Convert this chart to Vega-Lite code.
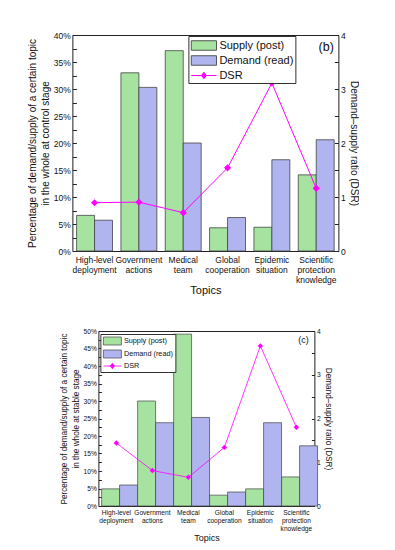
{
  "$schema": "https://vega.github.io/schema/vega-lite/v6.json",
  "padding": {"left": 26, "top": 30, "right": 0, "bottom": 0},
  "background": "white",
  "center": true,
  "spacing": 31,
  "config": {
    "font": "Liberation Sans",
    "view": {"stroke": "#222", "strokeWidth": 1},
    "axis": {"labelColor": "#111", "titleColor": "#111", "titleFontWeight": "normal", "domain": false, "grid": false, "tickColor": "#222"},
    "legend": {"labelColor": "#111"}
  },
  "datasets": {
    "barsB": [
      {"topic": "High-level deployment", "series": "Supply (post)", "value": 6.6},
      {"topic": "High-level deployment", "series": "Demand (read)", "value": 5.7},
      {"topic": "Government actions", "series": "Supply (post)", "value": 33.0},
      {"topic": "Government actions", "series": "Demand (read)", "value": 30.3},
      {"topic": "Medical team", "series": "Supply (post)", "value": 37.1},
      {"topic": "Medical team", "series": "Demand (read)", "value": 20.0},
      {"topic": "Global cooperation", "series": "Supply (post)", "value": 4.3},
      {"topic": "Global cooperation", "series": "Demand (read)", "value": 6.2},
      {"topic": "Epidemic situation", "series": "Supply (post)", "value": 4.4},
      {"topic": "Epidemic situation", "series": "Demand (read)", "value": 16.9},
      {"topic": "Scientific protection knowledge", "series": "Supply (post)", "value": 14.1},
      {"topic": "Scientific protection knowledge", "series": "Demand (read)", "value": 20.6}
    ],
    "dsrB": [
      {"topic": "High-level deployment", "dsr": 0.895},
      {"topic": "Government actions", "dsr": 0.905},
      {"topic": "Medical team", "dsr": 0.71},
      {"topic": "Global cooperation", "dsr": 1.54},
      {"topic": "Epidemic situation", "dsr": 3.11},
      {"topic": "Scientific protection knowledge", "dsr": 1.16}
    ],
    "barsC": [
      {"topic": "High-level deployment", "series": "Supply (post)", "value": 4.9},
      {"topic": "High-level deployment", "series": "Demand (read)", "value": 6.0},
      {"topic": "Government actions", "series": "Supply (post)", "value": 30.0},
      {"topic": "Government actions", "series": "Demand (read)", "value": 23.8},
      {"topic": "Medical team", "series": "Supply (post)", "value": 49.1},
      {"topic": "Medical team", "series": "Demand (read)", "value": 25.3},
      {"topic": "Global cooperation", "series": "Supply (post)", "value": 3.1},
      {"topic": "Global cooperation", "series": "Demand (read)", "value": 4.0},
      {"topic": "Epidemic situation", "series": "Supply (post)", "value": 4.9},
      {"topic": "Epidemic situation", "series": "Demand (read)", "value": 23.8},
      {"topic": "Scientific protection knowledge", "series": "Supply (post)", "value": 8.3},
      {"topic": "Scientific protection knowledge", "series": "Demand (read)", "value": 17.2}
    ],
    "dsrC": [
      {"topic": "High-level deployment", "dsr": 1.44},
      {"topic": "Government actions", "dsr": 0.81},
      {"topic": "Medical team", "dsr": 0.655},
      {"topic": "Global cooperation", "dsr": 1.34},
      {"topic": "Epidemic situation", "dsr": 3.66},
      {"topic": "Scientific protection knowledge", "dsr": 1.80}
    ]
  },
  "resolve": {"scale": {"color": "independent", "x": "independent", "y": "independent"}, "legend": {"color": "independent"}},
  "vconcat": [
    {
      "width": 266,
      "height": 216,
      "layer": [
        {
          "data": {"name": "barsB"},
          "mark": {"type": "bar", "stroke": "#444", "strokeWidth": 0.8},
          "encoding": {
            "x": {"field": "topic", "type": "nominal", "sort": null,
              "scale": {"domain": ["High-level deployment", "Government actions", "Medical team", "Global cooperation", "Epidemic situation", "Scientific protection knowledge"], "paddingInner": 0.19, "paddingOuter": 0.095},
              "axis": {"title": "Topics", "titleFontSize": 11, "titlePadding": 1, "labelAngle": 0, "labelFontSize": 8.5, "labelLineHeight": 10, "labelPadding": 4, "ticks": false, "labelOverlap": false, "labelExpr": "split(datum.label, ' ')"}},
            "xOffset": {"field": "series", "sort": ["Supply (post)", "Demand (read)"], "scale": {"paddingInner": 0}},
            "y": {"field": "value", "type": "quantitative", "scale": {"domain": [0, 40], "nice": false},
              "axis": {"orient": "left", "title": ["Percentage of demand/supply of a certain topic", "in the whole at control stage"], "titleFontSize": 10, "titleLineHeight": 13, "titlePadding": 3, "labelFontSize": 8.5, "values": [0, 2.5, 5, 7.5, 10, 12.5, 15, 17.5, 20, 22.5, 25, 27.5, 30, 32.5, 35, 37.5, 40], "labelExpr": "datum.value % 5 === 0 ? datum.value + '%' : ''", "tickSize": -4, "labelPadding": 6, "encode": {"ticks": {"x2": {"value": {"expr": "datum.value % 5 === 0 ? 4 : 2"}}}}}},
            "color": {"field": "series", "type": "nominal",
              "scale": {"domain": ["Supply (post)", "Demand (read)", "DSR"], "range": ["#a6e3a0", "#b0b4ef", "#ff00ff"]},
              "legend": {"orient": "none", "legendX": 116, "legendY": 1, "title": null, "labelFontSize": 11, "symbolSize": 196, "symbolStrokeWidth": 1, "strokeColor": "#333", "fillColor": "white", "padding": 2, "rowPadding": 0, "symbolOffset": 6, "labelOffset": 8,
                "symbolType": {"expr": "datum.value === 'DSR' ? 'M-1.8,0H1.8M0,-0.45L0.35,0L0,0.45L-0.35,0Z' : 'M-1.8,-0.68H1.8V0.68H-1.8Z'"},
                "symbolStrokeColor": {"expr": "datum.value === 'DSR' ? '#ff00ff' : '#555555'"}}}
          }
        },
        {
          "data": {"name": "dsrB"},
          "mark": {"type": "line", "color": "#ff00ff", "strokeWidth": 1},
          "encoding": {
            "x": {"field": "topic", "type": "nominal", "sort": null},
            "y": {"field": "dsr", "type": "quantitative", "scale": {"domain": [0, 4], "nice": false},
              "axis": {"orient": "right", "title": "Demand–supply ratio (DSR)", "titleFontSize": 10, "titlePadding": 3, "labelFontSize": 8.5, "values": [0, 0.5, 1, 1.5, 2, 2.5, 3, 3.5, 4], "labelExpr": "datum.value % 1 === 0 ? datum.value : ''", "tickSize": -4, "labelPadding": 6, "encode": {"ticks": {"x2": {"value": {"expr": "datum.value % 1 === 0 ? -4 : -2"}}}}}}
          }
        },
        {
          "data": {"name": "dsrB"},
          "mark": {"type": "point", "shape": "diamond", "filled": true, "color": "#ff00ff", "size": 50, "opacity": 1},
          "encoding": {
            "x": {"field": "topic", "type": "nominal", "sort": null},
            "y": {"field": "dsr", "type": "quantitative", "scale": {"domain": [0, 4], "nice": false}, "axis": null}
          }
        },
        {
          "data": {"values": [{"topic": "Scientific protection knowledge", "v": 37.8, "t": "(b)"}]},
          "mark": {"type": "text", "fontSize": 12.5, "dx": 10, "color": "#111"},
          "encoding": {
            "x": {"field": "topic", "type": "nominal", "sort": null},
            "y": {"field": "v", "type": "quantitative", "scale": {"domain": [0, 40], "nice": false}, "axis": null},
            "text": {"field": "t"}
          }
        }
      ],
      "resolve": {"scale": {"y": "independent"}, "axis": {"y": "independent"}}
    },
    {
      "width": 216,
      "height": 175,
      "layer": [
        {
          "data": {"name": "barsC"},
          "mark": {"type": "bar", "stroke": "#444", "strokeWidth": 0.7},
          "encoding": {
            "x": {"field": "topic", "type": "nominal", "sort": null,
              "scale": {"domain": ["High-level deployment", "Government actions", "Medical team", "Global cooperation", "Epidemic situation", "Scientific protection knowledge"], "paddingInner": 0.18, "paddingOuter": 0.09},
              "axis": {"title": "Topics", "titleFontSize": 9, "titlePadding": 1, "labelAngle": 0, "labelFontSize": 6.6, "labelLineHeight": 8.2, "labelPadding": 3, "ticks": false, "labelOverlap": false, "labelExpr": "split(datum.label, ' ')"}},
            "xOffset": {"field": "series", "sort": ["Supply (post)", "Demand (read)"], "scale": {"paddingInner": 0}},
            "y": {"field": "value", "type": "quantitative", "scale": {"domain": [0, 50], "nice": false},
              "axis": {"orient": "left", "title": ["Percentage of demand/supply of a certain topic", "in the whole at stable stage"], "titleFontSize": 8.2, "titleLineHeight": 12, "titlePadding": 3, "labelFontSize": 6.7, "values": [0, 2.5, 5, 7.5, 10, 12.5, 15, 17.5, 20, 22.5, 25, 27.5, 30, 32.5, 35, 37.5, 40, 42.5, 45, 47.5, 50], "labelExpr": "datum.value % 5 === 0 ? datum.value + '%' : ''", "tickSize": -3, "labelPadding": 5, "encode": {"ticks": {"x2": {"value": {"expr": "datum.value % 5 === 0 ? 3 : 1.5"}}}}}},
            "color": {"field": "series", "type": "nominal",
              "scale": {"domain": ["Supply (post)", "Demand (read)", "DSR"], "range": ["#a6e3a0", "#b0b4ef", "#ff00ff"]},
              "legend": {"orient": "none", "legendX": 2, "legendY": 3, "title": null, "labelFontSize": 7.3, "symbolSize": 86, "symbolStrokeWidth": 0.8, "strokeColor": "#333", "fillColor": "white", "padding": 1.5, "rowPadding": 0, "symbolOffset": 5, "labelOffset": 6,
                "symbolType": {"expr": "datum.value === 'DSR' ? 'M-1.94,0H1.94M0,-0.6L0.45,0L0,0.6L-0.45,0Z' : 'M-1.94,-0.86H1.94V0.86H-1.94Z'"},
                "symbolStrokeColor": {"expr": "datum.value === 'DSR' ? '#ff00ff' : '#555555'"}}}
          }
        },
        {
          "data": {"name": "dsrC"},
          "mark": {"type": "line", "color": "#ff00ff", "strokeWidth": 0.8},
          "encoding": {
            "x": {"field": "topic", "type": "nominal", "sort": null},
            "y": {"field": "dsr", "type": "quantitative", "scale": {"domain": [0, 4], "nice": false},
              "axis": {"orient": "right", "title": "Demand–supply ratio (DSR)", "titleFontSize": 8.2, "titlePadding": 3, "labelFontSize": 6.7, "values": [0, 0.5, 1, 1.5, 2, 2.5, 3, 3.5, 4], "labelExpr": "datum.value % 1 === 0 ? datum.value : ''", "tickSize": -3, "labelPadding": 5, "encode": {"ticks": {"x2": {"value": {"expr": "datum.value % 1 === 0 ? -3 : -1.5"}}}}}}
          }
        },
        {
          "data": {"name": "dsrC"},
          "mark": {"type": "point", "shape": "diamond", "filled": true, "color": "#ff00ff", "size": 30, "opacity": 1},
          "encoding": {
            "x": {"field": "topic", "type": "nominal", "sort": null},
            "y": {"field": "dsr", "type": "quantitative", "scale": {"domain": [0, 4], "nice": false}, "axis": null}
          }
        },
        {
          "data": {"values": [{"topic": "Scientific protection knowledge", "v": 47.4, "t": "(c)"}]},
          "mark": {"type": "text", "fontSize": 9, "dx": 7, "color": "#111"},
          "encoding": {
            "x": {"field": "topic", "type": "nominal", "sort": null},
            "y": {"field": "v", "type": "quantitative", "scale": {"domain": [0, 50], "nice": false}, "axis": null},
            "text": {"field": "t"}
          }
        }
      ],
      "resolve": {"scale": {"y": "independent"}, "axis": {"y": "independent"}}
    }
  ]
}
